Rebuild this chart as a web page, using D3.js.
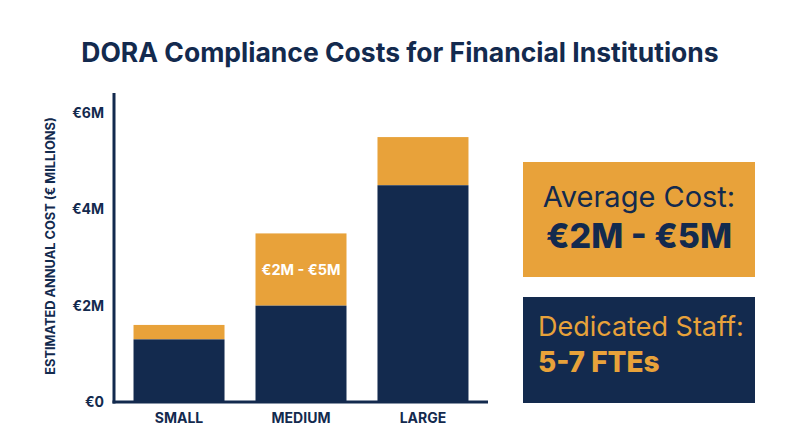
<!DOCTYPE html>
<html>
<head>
<meta charset="utf-8">
<script src="https://cdn.jsdelivr.net/npm/d3@7"></script>
<style>
  html, body { margin: 0; padding: 0; background: #ffffff; }
  svg { display: block; font-family: Inter, "Noto Sans", sans-serif; }
</style>
</head>
<body>
<svg id="chart" width="800" height="447"></svg>
<script>
// ---- data ----
const categories = ["SMALL", "MEDIUM", "LARGE"];
const baseCost = [1.3, 2.0, 4.5];
const upperCost = [1.6, 3.5, 5.5];
const yTicks = [0, 2, 4, 6];
const yTickLabels = ["€0", "€2M", "€4M", "€6M"];
const titleText = "DORA Compliance Costs for Financial Institutions";
const yAxisTitle = "ESTIMATED ANNUAL COST (€ MILLIONS)";
const barLabel = "€2M - €5M";
const boxAvg = ["Average Cost:", "€2M - €5M"];
const boxStaff = ["Dedicated Staff:", "5-7 FTEs"];

const NAVY = "#132a4e";
const ORANGE = "#e8a23a";

const svg = d3.select("#chart");

const x = d3.scaleBand().domain(categories).range([114, 488]).paddingInner(0.254).paddingOuter(0.16);
const y = d3.scaleLinear().domain([0, 6]).range([402, 113]);

// title
svg.append("text")
  .attr("x", 400).attr("y", 62)
  .attr("text-anchor", "middle")
  .attr("font-size", 26.5).attr("font-weight", 700)
  .attr("fill", NAVY)
  .text(titleText);

// bars - upper (orange) then base (navy)
const rows = categories.map((c, i) => ({ c, base: baseCost[i], upper: upperCost[i] }));
svg.append("g").selectAll("rect").data(rows).join("rect")
  .attr("x", d => x(d.c)).attr("width", x.bandwidth())
  .attr("y", d => y(d.upper)).attr("height", d => y(d.base) - y(d.upper))
  .attr("fill", ORANGE);
svg.append("g").selectAll("rect").data(rows).join("rect")
  .attr("x", d => x(d.c)).attr("width", x.bandwidth())
  .attr("y", d => y(d.base)).attr("height", d => y(0) - y(d.base))
  .attr("fill", NAVY);

// label inside medium bar
const med = rows[1];
svg.append("text")
  .attr("x", x(med.c) + x.bandwidth() / 2)
  .attr("y", (y(med.upper) + y(med.base)) / 2 + 5)
  .attr("text-anchor", "middle")
  .attr("font-size", 14.5).attr("font-weight", 700)
  .attr("fill", "#ffffff")
  .text(barLabel);

// axes
const yAxis = d3.axisLeft(y).tickValues(yTicks).tickFormat((d, i) => yTickLabels[i]).tickSize(0).tickPadding(10);
const gy = svg.append("g").attr("transform", "translate(114,0)").call(yAxis);
gy.select(".domain").remove();
gy.selectAll("text").attr("font-size", 14).attr("font-weight", 700).attr("fill", NAVY)
  .attr("font-family", "Inter, sans-serif");

const xAxis = d3.axisBottom(x).tickSize(0).tickPadding(11);
const gx = svg.append("g").attr("transform", "translate(0,402)").call(xAxis);
gx.select(".domain").remove();
gx.selectAll("text").attr("font-size", 14).attr("font-weight", 700).attr("fill", NAVY)
  .attr("font-family", "Inter, sans-serif");

// axis lines
svg.append("line").attr("x1", 114).attr("x2", 114).attr("y1", 93).attr("y2", y(0) + 1.5)
  .attr("stroke", NAVY).attr("stroke-width", 3);
svg.append("line").attr("x1", 112.5).attr("x2", 488).attr("y1", y(0)).attr("y2", y(0))
  .attr("stroke", NAVY).attr("stroke-width", 3);

// y axis title
svg.append("text")
  .attr("transform", "translate(55,246) rotate(-90)")
  .attr("text-anchor", "middle")
  .attr("font-size", 12.8).attr("font-weight", 700)
  .attr("fill", NAVY)
  .text(yAxisTitle);

// right boxes
svg.append("rect").attr("x", 523).attr("y", 162).attr("width", 232).attr("height", 115).attr("fill", ORANGE);
svg.append("text").attr("x", 639).attr("y", 207).attr("text-anchor", "middle")
  .attr("font-size", 29).attr("font-weight", 400).attr("fill", NAVY).text(boxAvg[0]);
svg.append("text").attr("x", 639).attr("y", 248).attr("text-anchor", "middle")
  .attr("font-size", 34).attr("font-weight", 800).attr("fill", NAVY).text(boxAvg[1]);

svg.append("rect").attr("x", 523).attr("y", 297).attr("width", 232).attr("height", 106).attr("fill", NAVY);
svg.append("text").attr("x", 538).attr("y", 336)
  .attr("font-size", 27).attr("font-weight", 400).attr("fill", ORANGE).text(boxStaff[0]);
svg.append("text").attr("x", 538).attr("y", 372)
  .attr("font-size", 28).attr("font-weight", 800).attr("fill", ORANGE).text(boxStaff[1]);
</script>
</body>
</html>
